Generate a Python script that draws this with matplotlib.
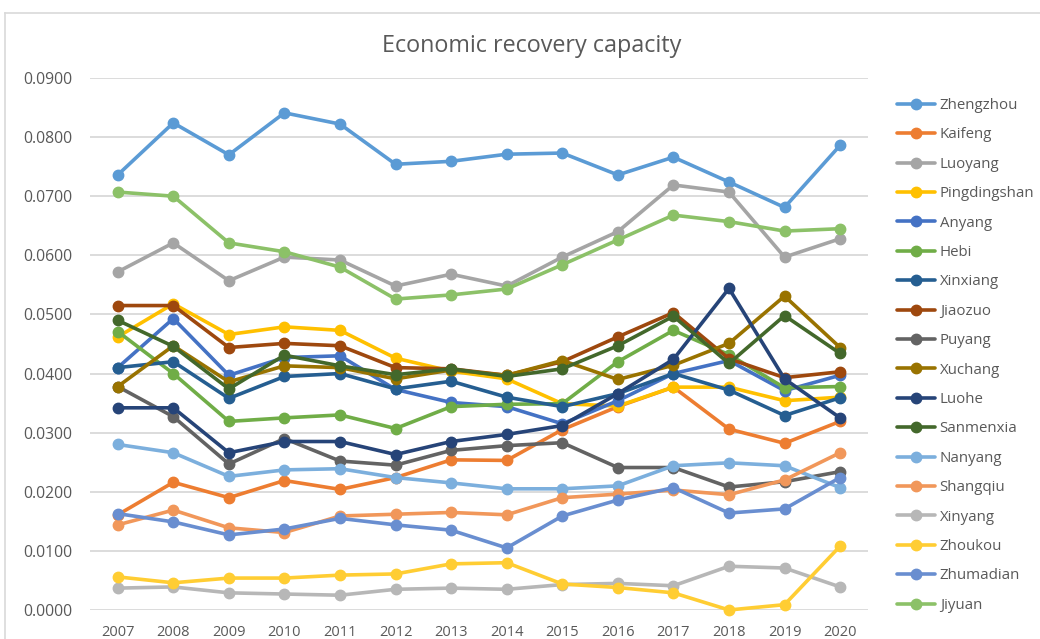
import matplotlib.pyplot as plt
from matplotlib.lines import Line2D

plt.rcParams['font.family'] = ['Open Sans', 'DejaVu Sans']

years = ['2007', '2008', '2009', '2010', '2011', '2012', '2013',
         '2014', '2015', '2016', '2017', '2018', '2019', '2020']

cities = ['Zhengzhou', 'Kaifeng', 'Luoyang', 'Pingdingshan', 'Anyang', 'Hebi',
          'Xinxiang', 'Jiaozuo', 'Puyang', 'Xuchang', 'Luohe', 'Sanmenxia',
          'Nanyang', 'Shangqiu', 'Xinyang', 'Zhoukou', 'Zhumadian', 'Jiyuan']

zhengzhou = [0.0736, 0.0824, 0.0770, 0.0841, 0.0822, 0.0754, 0.0759,
             0.0771, 0.0773, 0.0736, 0.0766, 0.0724, 0.0681, 0.0786]
kaifeng = [0.0161, 0.0216, 0.0190, 0.0219, 0.0204, 0.0224, 0.0254,
           0.0253, 0.0305, 0.0344, 0.0377, 0.0306, 0.0282, 0.0319]
luoyang = [0.0572, 0.0621, 0.0557, 0.0597, 0.0592, 0.0548, 0.0568,
           0.0548, 0.0597, 0.0640, 0.0719, 0.0707, 0.0597, 0.0628]
pingdingshan = [0.0462, 0.0518, 0.0466, 0.0479, 0.0473, 0.0426, 0.0404,
                0.0391, 0.0349, 0.0345, 0.0377, 0.0377, 0.0354, 0.0360]
anyang = [0.0410, 0.0493, 0.0397, 0.0427, 0.0430, 0.0373, 0.0351,
          0.0344, 0.0315, 0.0354, 0.0400, 0.0422, 0.0371, 0.0397]
hebi = [0.0471, 0.0400, 0.0319, 0.0325, 0.0330, 0.0307, 0.0344,
        0.0348, 0.0349, 0.0420, 0.0473, 0.0432, 0.0376, 0.0378]
xinxiang = [0.0410, 0.0420, 0.0358, 0.0395, 0.0400, 0.0374, 0.0387,
            0.0360, 0.0344, 0.0366, 0.0400, 0.0372, 0.0329, 0.0359]
jiaozuo = [0.0515, 0.0515, 0.0444, 0.0451, 0.0447, 0.0410, 0.0408,
           0.0397, 0.0420, 0.0462, 0.0503, 0.0425, 0.0393, 0.0403]
puyang = [0.0378, 0.0327, 0.0247, 0.0290, 0.0252, 0.0245, 0.0270,
          0.0278, 0.0283, 0.0241, 0.0241, 0.0208, 0.0217, 0.0234]
xuchang = [0.0378, 0.0447, 0.0386, 0.0413, 0.0410, 0.0391, 0.0406,
           0.0397, 0.0422, 0.0390, 0.0414, 0.0451, 0.0531, 0.0444]
luohe = [0.0342, 0.0342, 0.0266, 0.0285, 0.0285, 0.0263, 0.0285,
         0.0297, 0.0312, 0.0366, 0.0424, 0.0544, 0.0391, 0.0325]
sanmenxia = [0.0490, 0.0446, 0.0374, 0.0431, 0.0413, 0.0398, 0.0408,
             0.0395, 0.0408, 0.0447, 0.0497, 0.0417, 0.0498, 0.0434]
nanyang = [0.0280, 0.0266, 0.0226, 0.0237, 0.0239, 0.0224, 0.0215,
           0.0205, 0.0205, 0.0210, 0.0244, 0.0249, 0.0244, 0.0207]
shangqiu = [0.0144, 0.0169, 0.0139, 0.0131, 0.0159, 0.0162, 0.0165,
            0.0161, 0.0190, 0.0196, 0.0203, 0.0195, 0.0220, 0.0266]
xinyang = [0.0037, 0.0039, 0.0029, 0.0027, 0.0025, 0.0035, 0.0037,
           0.0035, 0.0043, 0.0045, 0.0041, 0.0074, 0.0071, 0.0039]
zhoukou = [0.0056, 0.0046, 0.0054, 0.0054, 0.0059, 0.0061, 0.0078,
           0.0080, 0.0044, 0.0038, 0.0029, 0.0000, 0.0009, 0.0108]
zhumadian = [0.0163, 0.0149, 0.0127, 0.0137, 0.0155, 0.0144, 0.0135,
             0.0105, 0.0159, 0.0186, 0.0207, 0.0164, 0.0171, 0.0224]
jiyuan = [0.0707, 0.0700, 0.0621, 0.0606, 0.0580, 0.0526, 0.0533,
          0.0543, 0.0584, 0.0626, 0.0668, 0.0657, 0.0641, 0.0645]

series = [zhengzhou, kaifeng, luoyang, pingdingshan, anyang, hebi,
          xinxiang, jiaozuo, puyang, xuchang, luohe, sanmenxia,
          nanyang, shangqiu, xinyang, zhoukou, zhumadian, jiyuan]

colors = ['#5B9BD5', '#ED7D31', '#A5A5A5', '#FFC000', '#4472C4', '#70AD47',
          '#255E91', '#9E480E', '#636363', '#997300', '#264478', '#43682B',
          '#7CAFDD', '#F1975A', '#B7B7B7', '#FFCD33', '#698ED0', '#8CC168']

fig = plt.figure(figsize=(10.4, 6.39), dpi=100)
fig.patch.set_facecolor('white')
ax = fig.add_axes([0.0865, 0.0454, 0.748, 0.8326])

x = list(range(len(years)))
for name, vals, c in zip(cities, series, colors):
    ax.plot(x, vals, color=c, lw=2.6, marker='o', markersize=7.5,
            label=name, solid_capstyle='round', clip_on=False)

ax.set_xlim(-0.5, len(years) - 0.5)
ax.set_ylim(0, 0.09)
ax.set_yticks([i * 0.01 for i in range(10)])
ax.set_yticklabels([f'{i * 0.01:.4f}' for i in range(10)])
ax.set_xticks(x)
ax.set_xticklabels(years)
ax.tick_params(length=0, colors='#595959')
ax.tick_params(axis='y', labelsize=11.3, pad=13)
ax.tick_params(axis='x', labelsize=10.5, pad=11)
ax.grid(axis='y', color='#D9D9D9', lw=1.3)
ax.set_axisbelow(True)
for s in ax.spines.values():
    s.set_visible(False)

fig.text(0.511, 0.928, 'Economic recovery capacity', ha='center', va='center',
         fontsize=16.8, color='#595959')

# outer chart frame (left and top edges)
fig.add_artist(Line2D([5 / 1040, 5 / 1040], [0, 1 - 13 / 639],
                      color='#D9D9D9', lw=1.2))
fig.add_artist(Line2D([5 / 1040, 1], [1 - 13 / 639, 1 - 13 / 639],
                      color='#D9D9D9', lw=1.2))

fig.legend(loc='upper left', bbox_to_anchor=(897 / 1040, 1 - 98 / 639),
           frameon=False, fontsize=10.8, labelcolor='#595959',
           handlelength=2.5, handletextpad=0.35, labelspacing=0.96,
           borderaxespad=0, borderpad=0)

fig.savefig('out.png', dpi=100, facecolor='white')
